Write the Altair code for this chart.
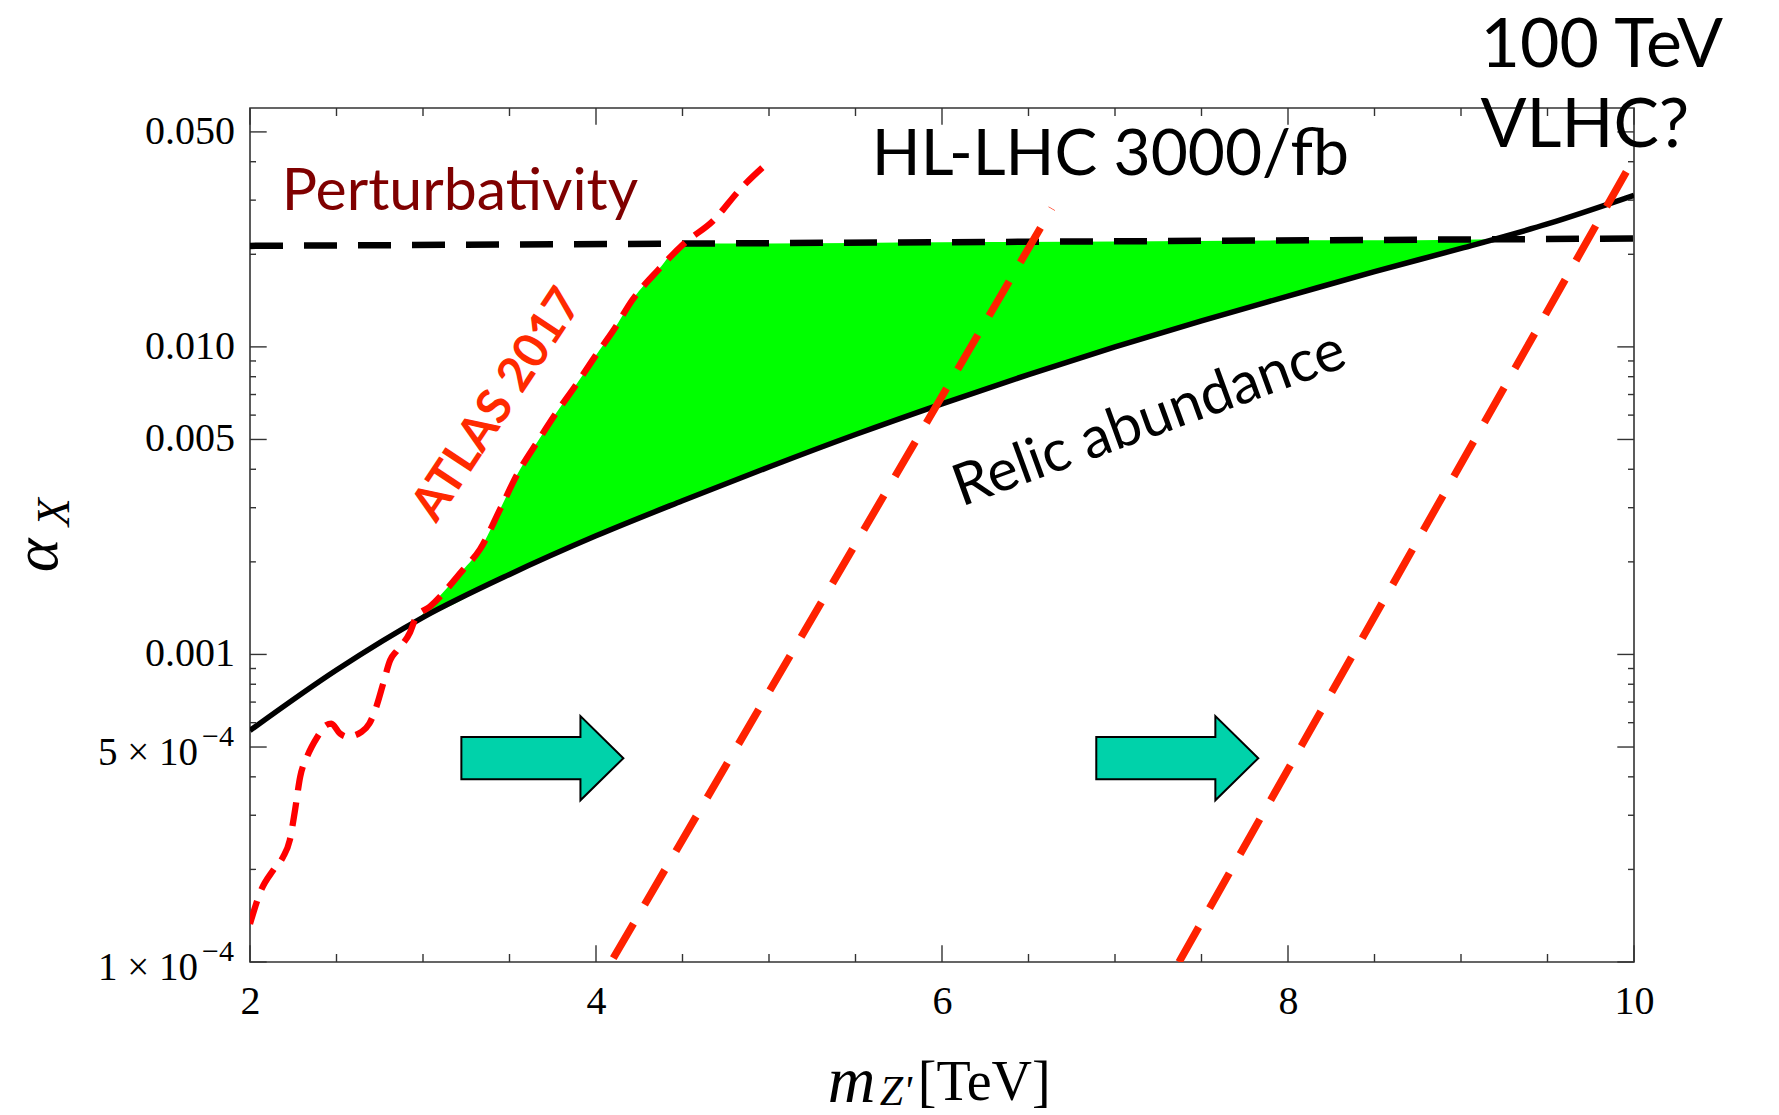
import altair as alt
import pandas as pd

# ---------------- data ----------------
# relic abundance curve (solid black)
relic_x = [2.0, 2.5, 3.0, 3.5, 4.0, 4.5, 5.0, 5.5, 6.0, 6.5, 7.0, 7.5, 8.0, 8.5, 9.0, 9.5, 10.0]
relic_y = [5.66e-4, 8.9e-4, 1.32e-3, 1.82e-3, 2.43e-3, 3.16e-3, 4.07e-3, 5.19e-3, 6.53e-3,
           8.13e-3, 1.00e-2, 1.216e-2, 1.462e-2, 1.758e-2, 2.09e-2, 2.51e-2, 3.11e-2]

# perturbativity bound (dashed black)
pert_x = [2.0, 10.0]
pert_y = [0.0213, 0.0225]

# ATLAS 2017 limit (dashed red)
atlas_x = [2.00, 2.06, 2.135, 2.19, 2.23, 2.26, 2.29, 2.33, 2.39, 2.44, 2.47, 2.52, 2.56, 2.645,
           2.69, 2.73, 2.77, 2.81, 2.85, 2.925, 2.96, 3.04, 3.23, 3.33, 3.45, 3.55, 3.66, 3.77,
           3.89, 4.0, 4.1, 4.21, 4.36, 4.51, 4.68, 4.83, 5.0]
atlas_y = [1.33e-4, 1.69e-4, 1.99e-4, 2.19e-4, 2.49e-4, 3.11e-4, 4.0e-4, 4.65e-4, 5.40e-4,
           5.89e-4, 5.96e-4, 5.53e-4, 5.40e-4, 5.60e-4, 5.96e-4, 6.75e-4, 8.04e-4, 9.57e-4,
           1.03e-3, 1.18e-3, 1.32e-3, 1.43e-3, 1.88e-3, 2.2e-3, 3.0e-3, 3.9e-3, 4.9e-3, 6.1e-3,
           7.6e-3, 9.4e-3, 1.13e-2, 1.42e-2, 1.78e-2, 2.17e-2, 2.58e-2, 3.24e-2, 4.0e-2]

# allowed (green) region
green_x = [2.98, 3.04, 3.23, 3.33, 3.45, 3.55, 3.66, 3.77, 3.89, 4.0, 4.1, 4.21, 4.36, 4.51,
           5.0, 6.0, 7.0, 8.0, 8.5, 9.0, 9.2]
green_top = [1.32e-3, 1.43e-3, 1.88e-3, 2.2e-3, 3.0e-3, 3.9e-3, 4.9e-3, 6.1e-3, 7.6e-3, 9.4e-3,
             1.13e-2, 1.42e-2, 1.78e-2, 2.17e-2, 2.17e-2, 2.19e-2, 2.20e-2, 2.22e-2, 2.22e-2,
             2.23e-2, 2.24e-2]
green_bottom = [1.32e-3, 1.35e-3, 1.51e-3, 1.62e-3, 1.76e-3, 1.87e-3, 2.01e-3, 2.14e-3, 2.29e-3,
                2.43e-3, 2.56e-3, 2.71e-3, 2.94e-3, 3.18e-3, 4.07e-3, 6.53e-3, 1.0e-2, 1.462e-2,
                1.758e-2, 2.09e-2, 2.24e-2]

# HL-LHC and 100 TeV projections (dashed red)
hl_x = [4.10, 6.635]
hl_y = [1.03e-4, 0.0282]
vl_x = [7.37, 10.0]
vl_y = [1.0e-4, 0.0411]

# arrows
arrow_x = [3.69, 7.36]
arrow_y = [4.6e-4, 4.6e-4]

# axis ticks / labels
x_major = [2, 4, 6, 8, 10]
x_minor = [2.5, 3, 3.5, 4.5, 5, 5.5, 6.5, 7, 7.5, 8.5, 9, 9.5]
y_major = [1e-4, 5e-4, 1e-3, 5e-3, 1e-2, 5e-2]
y_minor = [2e-4, 3e-4, 4e-4, 6e-4, 7e-4, 8e-4, 9e-4, 2e-3, 3e-3, 4e-3, 6e-3, 7e-3, 8e-3, 9e-3,
           2e-2, 3e-2, 4e-2]
y_plain_vals = [5e-2, 1e-2, 5e-3, 1e-3]
y_plain_text = ["0.050", "0.010", "0.005", "0.001"]
y_sci_vals = [5e-4, 1e-4]
y_sci_base = ["5 \u00d7 10", "1 \u00d7 10"]
y_sci_exp = ["\u22124", "\u22124"]

# annotation texts
lbl_pert = ("Perturbativity", 2.183, 0.0278)
lbl_hl = ("HL-LHC 3000/fb", 5.594, 0.0362)
lbl_vlhc = ("100 TeV\nVLHC?", 9.113, 0.0812)
lbl_relic = ("Relic abundance", 7.20, 0.00578)
lbl_atlas = ("ATLAS 2017", 3.434, 0.00646)
# axis titles (composed pieces)
xt_m = ("m", 5.34, 3.505e-5)
xt_z = ("Z'", 5.64, 3.42e-5)
xt_tev = ("[TeV]", 5.86, 3.55e-5)
yt_a = ("\u03b1", 0.884, 2.10e-3)
yt_x = ("X", 0.954, 2.90e-3)

# ---------------- chart ----------------
W, H = 1384, 854
xscale = alt.Scale(domain=[2, 10], nice=False, zero=False)
yscale = alt.Scale(type="log", domain=[1e-4, 0.0598], nice=False)
X = alt.X("x:Q", scale=xscale, axis=alt.Axis(values=x_major, labelFont="Liberation Serif",
                                              labelFontSize=40, labelPadding=19, ticks=False,
                                              tickSize=0, domain=False, grid=False, title=None,
                                              labelColor="black", labelFlush=False,
                                              labelOverlap=False, labelBound=False))
Y = alt.Y("y:Q", scale=yscale, axis=None)
Y2 = alt.Y2("y2:Q")


def df(**kw):
    return pd.DataFrame(kw)


green = alt.Chart(df(x=green_x, y=green_top, y2=green_bottom)).mark_area(
    color="#00ff00", opacity=1, interpolate="monotone", clip=True
).encode(x=X, y=Y, y2=Y2)

relic = alt.Chart(df(x=relic_x, y=relic_y)).mark_line(
    color="black", strokeWidth=5.5, interpolate="monotone", clip=True
).encode(x=X, y=Y)

pert = alt.Chart(df(x=pert_x, y=pert_y)).mark_line(
    color="black", strokeWidth=6.5, strokeDash=[33, 21], clip=True
).encode(x=X, y=Y)

atlas = alt.Chart(df(x=atlas_x, y=atlas_y)).mark_line(
    color="#ff0000", strokeWidth=6.3, strokeDash=[24, 12], interpolate="monotone", clip=True
).encode(x=X, y=Y)

hl = alt.Chart(df(x=hl_x, y=hl_y)).mark_line(
    color="#ff2200", strokeWidth=7.5, strokeDash=[40, 22], clip=True
).encode(x=X, y=Y)

vl = alt.Chart(df(x=vl_x, y=vl_y)).mark_line(
    color="#ff2200", strokeWidth=7.5, strokeDash=[40, 22], clip=True
).encode(x=X, y=Y)

arrow_path = "M -1 -0.26 L 0.47 -0.26 L 0.47 -0.52 L 1 0 L 0.47 0.52 L 0.47 0.26 L -1 0.26 Z"
arrows = alt.Chart(df(x=arrow_x, y=arrow_y)).mark_point(
    shape=arrow_path, size=26244, filled=True, fill="#00d2aa", stroke="black",
    strokeWidth=2, opacity=1
).encode(x=X, y=Y)


def label(item, **props):
    t, xv, yv = item
    return alt.Chart(df(x=[xv], y=[yv], t=[t])).mark_text(**props).encode(x=X, y=Y, text="t:N")


sans = "Lato"
texts = [
    label(lbl_pert, font=sans, fontSize=59, color="#7f0000", align="left", baseline="alphabetic"),
    label(lbl_hl, font=sans, fontSize=64, color="black", align="left", baseline="alphabetic"),
    label(lbl_vlhc, font=sans, fontSize=68, color="black", align="left", baseline="alphabetic",
          lineBreak="\n", lineHeight=80),
    label(lbl_relic, font=sans, fontSize=58, color="black", align="center", baseline="middle",
          angle=340),
    label(lbl_atlas, font=sans, fontSize=48, fontWeight="bold", color="#ff2a00", align="center",
          baseline="middle", angle=303.5),
    label(xt_m, font="Liberation Serif", fontSize=66, fontStyle="italic", color="black",
          align="left", baseline="alphabetic"),
    label(xt_z, font="Liberation Serif", fontSize=42, fontStyle="italic", color="black",
          align="left", baseline="alphabetic"),
    label(xt_tev, font="Liberation Serif", fontSize=56, color="black", align="left",
          baseline="alphabetic"),
    label(yt_a, font="Liberation Serif", fontSize=64, fontStyle="italic", color="black",
          align="center", baseline="alphabetic", angle=270),
    label(yt_x, font="Liberation Serif", fontSize=46, fontStyle="italic", color="black",
          align="center", baseline="alphabetic", angle=270),
]

# y tick labels
ylab_plain = alt.Chart(df(y=y_plain_vals, t=y_plain_text)).mark_text(
    font="Liberation Serif", fontSize=40, color="black", align="right", baseline="middle"
).encode(x=alt.value(-15), y=Y, text="t:N")
ylab_base = alt.Chart(df(y=y_sci_vals, t=y_sci_base)).mark_text(
    font="Liberation Serif", fontSize=39, color="black", align="right", baseline="middle", dy=6
).encode(x=alt.value(-52), y=Y, text="t:N")
ylab_exp = alt.Chart(df(y=y_sci_vals, t=y_sci_exp)).mark_text(
    font="Liberation Serif", fontSize=30, color="black", align="right", baseline="middle", dy=-10
).encode(x=alt.value(-16), y=Y, text="t:N")

# frame ticks (pointing inward)
tc = "#333333"
tw = 1.4
MAJ, MIN_X, MIN_Y = 16.7, 8, 6
ticks = [
    alt.Chart(df(x=x_major)).mark_rule(color=tc, strokeWidth=tw).encode(
        x=X, y=alt.value(H), y2=alt.value(H - MAJ)),
    alt.Chart(df(x=x_minor)).mark_rule(color=tc, strokeWidth=tw).encode(
        x=X, y=alt.value(H), y2=alt.value(H - MIN_X)),
    alt.Chart(df(x=x_major)).mark_rule(color=tc, strokeWidth=tw).encode(
        x=X, y=alt.value(0), y2=alt.value(MAJ)),
    alt.Chart(df(x=x_minor)).mark_rule(color=tc, strokeWidth=tw).encode(
        x=X, y=alt.value(0), y2=alt.value(MIN_X)),
    alt.Chart(df(y=y_major)).mark_rule(color=tc, strokeWidth=tw).encode(
        y=Y, x=alt.value(0), x2=alt.value(MAJ)),
    alt.Chart(df(y=y_minor)).mark_rule(color=tc, strokeWidth=tw).encode(
        y=Y, x=alt.value(0), x2=alt.value(MIN_Y)),
    alt.Chart(df(y=y_major)).mark_rule(color=tc, strokeWidth=tw).encode(
        y=Y, x=alt.value(W), x2=alt.value(W - MAJ)),
    alt.Chart(df(y=y_minor)).mark_rule(color=tc, strokeWidth=tw).encode(
        y=Y, x=alt.value(W), x2=alt.value(W - MIN_Y)),
]

chart = alt.layer(
    green, relic, pert, atlas, hl, vl, arrows, *ticks, ylab_plain, ylab_base, ylab_exp, *texts
).properties(
    width=W, height=H,
    padding={"left": 250, "top": 108, "right": 145, "bottom": 153},
    autosize="none",
    background="white",
).configure_view(stroke="#333333", strokeWidth=1.6)

chart.save("out.html", embed_options={"renderer": "svg", "actions": False})
